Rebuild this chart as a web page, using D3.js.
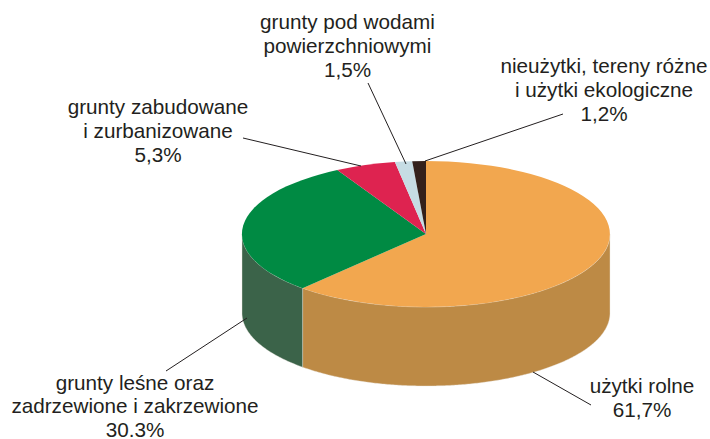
<!DOCTYPE html>
<html>
<head>
<meta charset="utf-8">
<script src="https://cdn.jsdelivr.net/npm/d3@7"></script>
<style>
    html, body { margin: 0; background: #fff; }
    text { font-family: "Liberation Sans", Arial, sans-serif; font-size: 20.7px; fill: #231f20; text-anchor: middle; }
</style>
</head>
<body>
<div id="chart"></div>
<script>
// Land use shares, clockwise from 12 o'clock
const categories = ["użytki rolne", "grunty leśne oraz zadrzewione i zakrzewione", "grunty zabudowane i zurbanizowane", "grunty pod wodami powierzchniowymi", "nieużytki, tereny różne i użytki ekologiczne"];
const shares = [61.7, 30.3, 5.3, 1.5, 1.2];
const shareLabels = ["61,7%", "30.3%", "5,3%", "1,5%", "1,2%"];
const topColors = ["#f2a74f", "#008a43", "#de2350", "#c6dce4", "#33201b"];
const sideColors = ["#bd8a45", "#3b6349", "#a81b3c", "#95a3a9", "#261814"];

const width = 710, height = 439;
const cx = 426, cy = 234, rx = 184, ry = 73, depth = 79;

// label block: centre x, first baseline, lines; leader: from label end to point on the pie
const labelLayout = [
    { x: 642, y: 393, lines: ["użytki rolne"], leader: [591, 405], anchor: [533, 372] },
    { x: 135, y: 389.5, lines: ["grunty leśne oraz", "zadrzewione i zakrzewione"], leader: [166, 371], anchor: [247, 318] },
    { x: 158, y: 114, lines: ["grunty zabudowane", "i zurbanizowane"], leader: [243, 138], anchor: [361, 166] },
    { x: 347.5, y: 29, lines: ["grunty pod wodami", "powierzchniowymi"], leader: [368, 83], anchor: [406, 164] },
    { x: 604, y: 73, lines: ["nieużytki, tereny różne", "i użytki ekologiczne"], leader: [563, 114], anchor: [425, 161] }
];
const lineStep = 23.8;

const svg = d3.select("#chart").append("svg")
    .attr("width", width)
    .attr("height", height)
    .style("display", "block");

const slices = d3.pie().sort(null).value(d => d)(shares);

// Point on the ellipse for a pie angle (0 = top, clockwise)
const px = a => cx + rx * Math.sin(a);
const py = a => cy - ry * Math.cos(a);

// Side walls, only the part facing the viewer
const wall = svg.append("g");
slices.forEach((s, i) => {
    const a0 = Math.max(s.startAngle, Math.PI / 2);
    const a1 = Math.min(s.endAngle, Math.PI * 3 / 2);
    if (a1 <= a0) return;
    const angles = d3.range(a0, a1, 0.01).concat([a1]);
    const upper = angles.map(a => [px(a), py(a)]);
    const lower = angles.slice().reverse().map(a => [px(a), py(a) + depth]);
    wall.append("path")
        .attr("d", d3.line()(upper.concat(lower)) + "Z")
        .attr("fill", sideColors[i])
        .attr("stroke", "#e8e4dc")
        .attr("stroke-width", 0.4);
});

// Top face: unit arc squashed into the ellipse
const arc = d3.arc().innerRadius(0).outerRadius(1);
svg.append("g")
    .attr("transform", `translate(${cx},${cy}) scale(${rx},${ry})`)
    .selectAll("path")
    .data(slices)
    .enter()
    .append("path")
    .attr("d", arc)
    .attr("fill", (d, i) => topColors[i]);

// Leader lines
svg.append("g")
    .selectAll("line")
    .data(labelLayout)
    .enter()
    .append("line")
    .attr("x1", d => d.leader[0])
    .attr("y1", d => d.leader[1])
    .attr("x2", d => d.anchor[0])
    .attr("y2", d => d.anchor[1])
    .attr("stroke", "#231f20")
    .attr("stroke-width", 1);

// Labels
labelLayout.forEach((d, i) => {
    const t = svg.append("text").attr("x", d.x).attr("y", d.y);
    d.lines.concat(shareLabels[i]).forEach((line, j) => {
        t.append("tspan")
            .attr("x", d.x)
            .attr("dy", j ? lineStep : 0)
            .text(line);
    });
});
</script>
</body>
</html>
